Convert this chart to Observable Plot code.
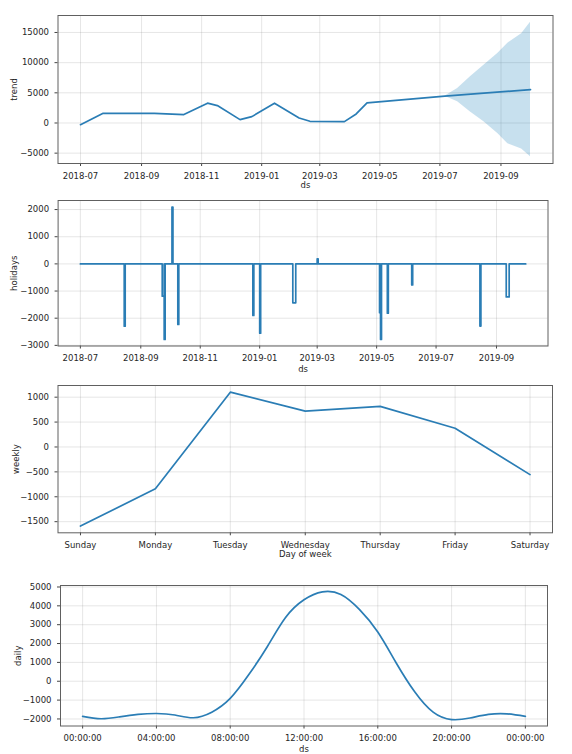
<!DOCTYPE html>
<html><head><meta charset="utf-8">
<script src="https://cdn.jsdelivr.net/npm/d3@7"></script>
<script src="https://cdn.jsdelivr.net/npm/@observablehq/plot@0.6"></script>
<style>body{margin:0;background:#fff}#c svg{display:block}</style>
</head><body><div id="c"></div>
<script>
// ---- trend ----
const trendDates = ["2018-07-01","2018-07-24","2018-09-14","2018-10-14","2018-11-07","2018-11-17","2018-12-10","2018-12-22","2019-01-14","2019-02-08","2019-02-19","2019-03-26","2019-04-07","2019-04-18","2019-07-06","2019-10-01"];
const trendValues = [-280,1610,1600,1400,3280,2890,555,1055,3280,830,280,220,1500,3330,4450,5530];
const bandDates = ["2019-07-06","2019-07-19","2019-08-01","2019-08-15","2019-08-29","2019-09-08","2019-09-22","2019-10-01"];
const bandLower = [4450,3500,1830,170,-1770,-3430,-4300,-5600];
const bandUpper = [4450,5730,7670,9620,11570,13230,14800,16700];
const trendTicks = [-5000,0,5000,10000,15000];
// ---- holidays ----
const holidayStarts = ["2018-08-15","2018-09-23","2018-09-25","2018-10-03","2018-10-09","2018-12-25","2019-01-01","2019-02-04","2019-03-01","2019-05-04","2019-05-05","2019-05-12","2019-06-06","2019-08-15","2019-09-11"];
const holidayDays   = [1,2,1,1,1,1,1,3,1,1,1,1,1,1,3];
const holidayValues = [-2295,-1190,-2780,2090,-2230,-1900,-2550,-1435,185,-1800,-2780,-1815,-775,-2290,-1215];
const holidayTicks = [-3000,-2000,-1000,0,1000,2000];
const seriesStart = "2018-07-01", seriesEnd = "2019-10-01";
const monthTickLabels = ["2018-07","2018-09","2018-11","2019-01","2019-03","2019-05","2019-07","2019-09"];
// ---- weekly ----
const weekdays = ["Sunday","Monday","Tuesday","Wednesday","Thursday","Friday","Saturday"];
const weeklyValues = [-1589,-839,1100,720,815,375,-555];
const weeklyTicks = [-1500,-1000,-500,0,500,1000];
// ---- daily ----
const dailyHours = [0,1,2,3,4,5,6,7,8,9,10,11,12,13,14,15,16,17,18,19,20,21,22,23,24];
const dailyValues = [-1865,-1990,-1890,-1760,-1710,-1790,-1935,-1640,-910,340,1820,3380,4320,4740,4600,3810,2610,970,-560,-1640,-2035,-1950,-1760,-1730,-1865];
const dailyTicks = [-2000,-1000,0,1000,2000,3000,4000,5000];
const hourTicks = [0,4,8,12,16,20,24];

const BLUE = "#2a7db5";
const LW = 1.7;
const fmt = d3.format("d");
const style = {fontFamily: "DejaVu Sans", fontSize: "8.5px", color: "#262626", background: "white", overflow: "visible"};
const parse = d3.utcParse("%Y-%m-%d");
const monthTicks = monthTickLabels.map(s => parse(s + "-01"));
const t0 = parse(seriesStart), t1 = parse(seriesEnd);
const span = t1 - t0;
const xDomainDates = [new Date(+t0 - span * 0.05), new Date(+t1 + span * 0.05)];
const pad = (lo, hi) => [lo - (hi - lo) * 0.05, hi + (hi - lo) * 0.05];

function common(label, xlabel, dxLabel, dyLabel) {
  return [
    Plot.frame({stroke: "#606060", strokeWidth: 1}),
    Plot.text([label], {frameAnchor: "left", dx: dxLabel, rotate: -90, textAnchor: "middle", lineAnchor: "middle", fill: "#262626"}),
    Plot.text([xlabel], {frameAnchor: "bottom", dy: dyLabel, textAnchor: "middle", lineAnchor: "middle", fill: "#262626"})
  ];
}
const gridStyle = {stroke: "gray", strokeOpacity: 0.2, strokeWidth: 1};
const axisStyle = {tickSize: 3, label: null, stroke: "#444"};

const trend = trendDates.map((d, i) => ({ds: parse(d), v: trendValues[i]}));
const band = bandDates.map((d, i) => ({ds: parse(d), lo: bandLower[i], hi: bandUpper[i]}));
const allBand = [...bandLower, ...bandUpper, ...trendValues];

const p1 = Plot.plot({
  width: 572, height: 195, marginLeft: 57.5, marginRight: 19.5, marginTop: 15, marginBottom: 32,
  style,
  x: {type: "utc", domain: xDomainDates},
  y: {domain: pad(d3.min(allBand), d3.max(allBand))},
  marks: [
    Plot.gridX(monthTicks, gridStyle),
    Plot.gridY(trendTicks, gridStyle),
    Plot.areaY(band, {x: "ds", y1: "lo", y2: "hi", fill: "#0072B2", fillOpacity: 0.22}),
    Plot.lineY(trend, {x: "ds", y: "v", stroke: BLUE, strokeWidth: LW}),
    Plot.axisX({ticks: monthTicks, tickFormat: d3.utcFormat("%Y-%m"), ...axisStyle}),
    Plot.axisY({ticks: trendTicks, tickFormat: fmt, ...axisStyle}),
    ...common("trend", "ds", -44, 22)
  ]
});

// holiday series: zero baseline with steps over each holiday window
const hol = [{ds: t0, v: 0}];
holidayStarts.forEach((s, i) => {
  const a = parse(s), b = d3.utcDay.offset(a, holidayDays[i]);
  hol.push({ds: a, v: 0}, {ds: a, v: holidayValues[i]}, {ds: b, v: holidayValues[i]}, {ds: b, v: 0});
});
hol.push({ds: t1, v: 0});

const p2 = Plot.plot({
  width: 572, height: 180, marginLeft: 57.6, marginRight: 24.5, marginTop: 5, marginBottom: 29.5,
  style,
  x: {type: "utc", domain: xDomainDates},
  y: {domain: pad(d3.min(holidayValues), d3.max(holidayValues))},
  marks: [
    Plot.gridX(monthTicks, gridStyle),
    Plot.gridY(holidayTicks, gridStyle),
    Plot.line(hol, {x: "ds", y: "v", stroke: BLUE, strokeWidth: LW}),
    Plot.axisX({ticks: monthTicks, tickFormat: d3.utcFormat("%Y-%m"), ...axisStyle}),
    Plot.axisY({ticks: holidayTicks, tickFormat: fmt, ...axisStyle}),
    ...common("holidays", "ds", -43.6, 23.5)
  ]
});

const weekly = weeklyValues.map((v, i) => ({i, v}));
const p3 = Plot.plot({
  width: 572, height: 190, marginLeft: 57.5, marginRight: 20, marginTop: 10, marginBottom: 32.7,
  style,
  x: {type: "linear", domain: pad(0, weekdays.length - 1)},
  y: {domain: pad(d3.min(weeklyValues), d3.max(weeklyValues))},
  marks: [
    Plot.gridX(d3.range(weekdays.length), gridStyle),
    Plot.gridY(weeklyTicks, gridStyle),
    Plot.line(weekly, {x: "i", y: "v", stroke: BLUE, strokeWidth: LW}),
    Plot.axisX({ticks: d3.range(weekdays.length), tickFormat: i => weekdays[i], ...axisStyle}),
    Plot.axisY({ticks: weeklyTicks, tickFormat: fmt, ...axisStyle}),
    ...common("weekly", "Day of week", -41.5, 21.7)
  ]
});

const daily = dailyHours.map((h, i) => ({h, v: dailyValues[i]}));
const p4 = Plot.plot({
  width: 572, height: 189, marginLeft: 60, marginRight: 25, marginTop: 20, marginBottom: 28.5,
  style,
  x: {type: "linear", domain: pad(0, 24)},
  y: {domain: pad(d3.min(dailyValues), d3.max(dailyValues))},
  marks: [
    Plot.gridX(hourTicks, gridStyle),
    Plot.gridY(dailyTicks, gridStyle),
    Plot.line(daily, {x: "h", y: "v", stroke: BLUE, strokeWidth: LW, curve: "natural"}),
    Plot.axisX({ticks: hourTicks, tickFormat: h => String(h % 24).padStart(2, "0") + ":00:00", ...axisStyle}),
    Plot.axisY({ticks: dailyTicks, tickFormat: fmt, ...axisStyle}),
    ...common("daily", "ds", -42.7, 22.8)
  ]
});

const c = document.getElementById("c");
[p1, p2, p3, p4].forEach(p => c.appendChild(p));
</script>
</body></html>
